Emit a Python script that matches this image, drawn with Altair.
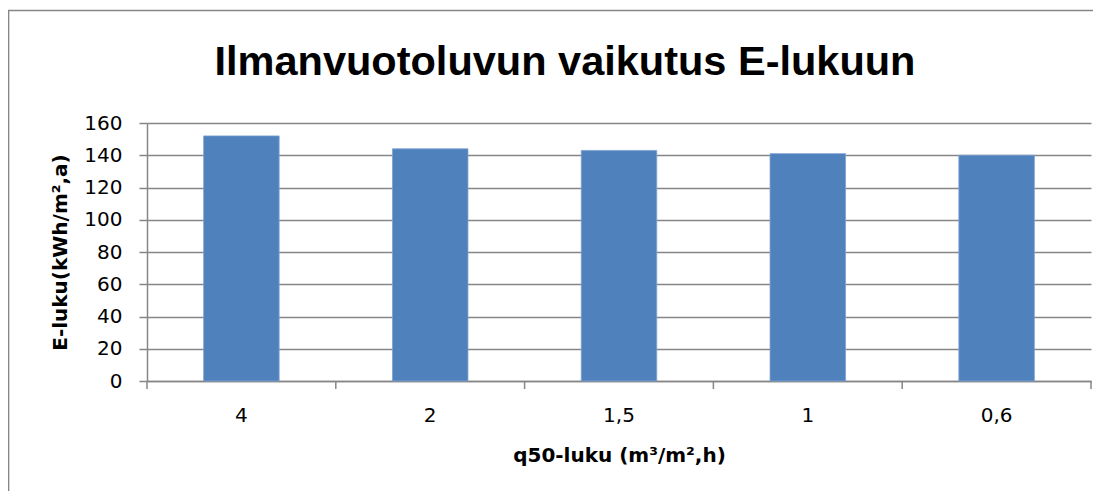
import altair as alt
import pandas as pd

categories = ["4", "2", "1,5", "1", "0,6"]
values = [152, 144, 143, 141, 140]
y_ticks = [0, 20, 40, 60, 80, 100, 120, 140, 160]

title_text = "Ilmanvuotoluvun vaikutus E-lukuun"
x_title = "q50-luku (m³/m²,h)"
y_title = "E-luku(kWh/m²,a)"

W, H = 944, 258
STEP = W / 5.0
FONT = "DejaVu Sans"
GRID = "#868686"

df = pd.DataFrame({"cat": categories, "val": values})
last = pd.DataFrame({"cat": categories[-1:]})
title_df = pd.DataFrame({"t": [title_text]})

xscale = alt.Scale(domain=categories, paddingInner=0.6, paddingOuter=0.3)
yscale = alt.Scale(domain=[0, 160])

bars = alt.Chart(df).mark_bar(color="#4F81BD", stroke="#7EA2D3", strokeWidth=0.8).encode(
    x=alt.X("cat:N", scale=xscale, sort=categories,
            axis=alt.Axis(title=x_title, ticks=False, labelAngle=0,
                          labelBaseline="middle", labelPadding=34,
                          labelFontSize=20, labelFont=FONT, labelColor="black",
                          domainColor=GRID, domainWidth=1.5,
                          titleFont=FONT, titleFontSize=20, titleFontWeight="bold",
                          titleColor="black", titleX=W / 2, titleY=74,
                          titleBaseline="middle", titleAlign="center")),
    y=alt.Y("val:Q", scale=yscale,
            axis=alt.Axis(title=y_title, values=y_ticks, tickSize=8, tickColor=GRID,
                          tickWidth=1.5, labelPadding=17, labelFontSize=20,
                          labelFont=FONT, labelColor="black",
                          grid=True, gridColor=GRID, gridWidth=1.5,
                          domainColor=GRID, domainWidth=1.5,
                          titleFont=FONT, titleFontSize=20, titleFontWeight="bold",
                          titleColor="black", titleAngle=-90, titleX=-87,
                          titleY=H / 2, titleBaseline="middle", titleAlign="center")),
)

xticks = alt.Chart(df).mark_rule(color=GRID, strokeWidth=1.5, xOffset=-STEP / 2).encode(
    x=alt.X("cat:N", scale=xscale, sort=categories),
    y=alt.value(H), y2=alt.value(H + 8),
)
xtick_end = alt.Chart(last).mark_rule(color=GRID, strokeWidth=1.5, xOffset=STEP / 2).encode(
    x=alt.X("cat:N", scale=xscale, sort=categories),
    y=alt.value(H), y2=alt.value(H + 8),
)

border_left = alt.Chart(last).mark_rule(color="#878787", strokeWidth=1.7).encode(
    x=alt.value(-138.5), y=alt.value(-113), y2=alt.value(H + 300),
)
border_top = alt.Chart(last).mark_rule(color="#878787", strokeWidth=1.7).encode(
    x=alt.value(-139.3), x2=alt.value(W + 300), y=alt.value(-112.5),
)

title = alt.Chart(title_df).mark_text(
    font="Liberation Sans", fontSize=41.5, fontWeight="bold", color="black",
    align="center", baseline="alphabetic",
).encode(text="t:N", x=alt.value(418), y=alt.value(-48))

chart = alt.layer(border_left, border_top, bars, xticks, xtick_end, title).properties(
    width=W, height=H,
    autosize=alt.AutoSizeParams(type="none"),
    padding={"left": 139, "top": 115, "right": 2, "bottom": 110},
).configure_view(stroke=None)

chart.save("out.html", embed_options={"renderer": "svg", "actions": False})
